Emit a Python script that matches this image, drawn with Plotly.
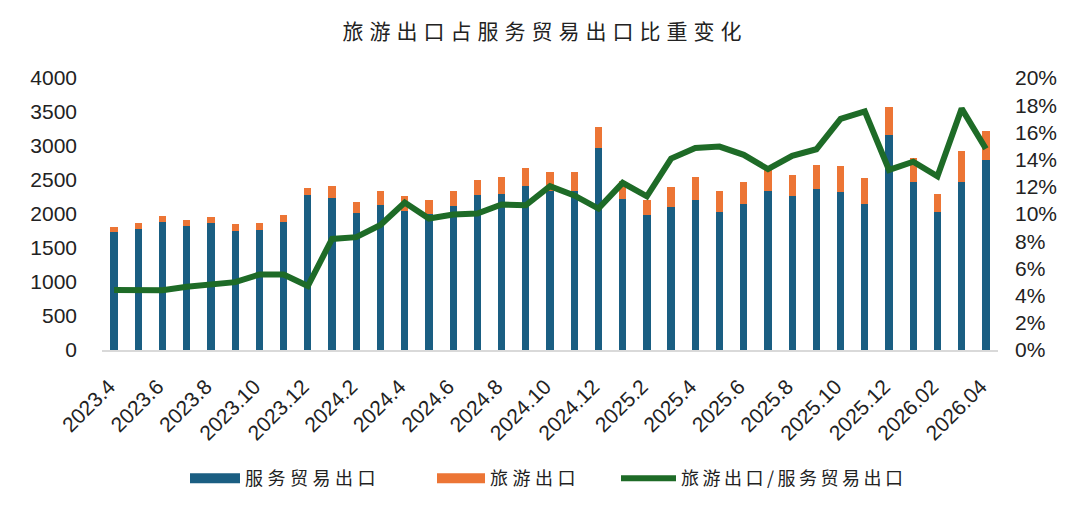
import plotly.graph_objects as go

months = (["2023.%d" % m for m in range(4, 13)]
          + ["2024.%d" % m for m in range(1, 13)]
          + ["2025.%d" % m for m in range(1, 13)]
          + ["2026.01", "2026.02", "2026.03", "2026.04"])

services = [1741, 1779, 1886, 1823, 1862, 1750, 1765, 1886, 2274, 2235,
            2012, 2128, 2041, 2007, 2114, 2274, 2288, 2405, 2337, 2337,
            2967, 2225, 1983, 2100, 2211, 2036, 2153, 2342, 2259, 2361,
            2317, 2153, 3166, 2477, 2032, 2477, 2793]

tourism = [73, 88, 83, 92, 87, 97, 102, 102, 107, 184,
           165, 204, 228, 204, 218, 228, 262, 267, 277, 277,
           316, 267, 228, 300, 339, 306, 324, 305, 316, 354,
           388, 382, 412, 349, 266, 447, 422]

ratio_pct = [4.41, 4.41, 4.40, 4.65, 4.87, 4.99, 5.55, 5.55, 4.70, 8.17,
             8.30, 9.19, 10.84, 9.67, 9.96, 10.04, 10.70, 10.64, 12.05, 11.37,
             10.40, 12.29, 11.30, 14.08, 14.86, 14.96, 14.35, 13.30, 14.28, 14.76,
             17.00, 17.55, 13.24, 13.84, 12.77, 17.75, 14.80]
ratio = [v / 100 for v in ratio_pct]

title_text = "旅游出口占服务贸易出口比重变化"
names = ["服务贸易出口", "旅游出口", "旅游出口/服务贸易出口"]

BLUE = "#1a5e82"
ORANGE = "#ec7535"
GREEN = "#1e6b27"
TEXT = "#222222"
LATIN = "Liberation Sans, Arial, sans-serif"
TICKFONT = dict(family=LATIN, size=21, color=TEXT)
CJK = "Noto Sans CJK SC, sans-serif"


def spaced(s, px):
    return '<span style="letter-spacing:%spx">%s</span>' % (px, s)


fig = go.Figure()
fig.add_trace(go.Bar(x=months, y=services, name=names[0], marker_color=BLUE,
                     marker_line_width=0, showlegend=False))
fig.add_trace(go.Bar(x=months, y=tourism, name=names[1], marker_color=ORANGE,
                     marker_line_width=0, showlegend=False))
fig.add_trace(go.Scatter(x=months, y=ratio, name=spaced(names[2], 3.5), yaxis="y2",
                         mode="lines", line=dict(color=GREEN, width=6),
                         legend="legend3"))
# legend swatches for the two bar series (wide rectangles as in the reference)
fig.add_trace(go.Scatter(x=[None], y=[None], name=spaced(names[0], 4.5), mode="lines",
                         line=dict(color=BLUE, width=12), legend="legend"))
fig.add_trace(go.Scatter(x=[None], y=[None], name=spaced(names[1], 4.5), mode="lines",
                         line=dict(color=ORANGE, width=12), legend="legend2"))

PW = 896.0
LEFT = 102.0


def lx(px):
    return (px - LEFT) / PW


legend_common = dict(orientation="h", y=-0.473, yanchor="middle", xanchor="left",
                     font=dict(family=CJK, size=18, color=TEXT),
                     bgcolor="rgba(0,0,0,0)", borderwidth=0)

fig.update_layout(
    width=1080, height=509,
    margin=dict(l=102, r=82, t=78, b=156),
    paper_bgcolor="white", plot_bgcolor="white",
    barmode="stack", bargap=0.7,
    title=dict(text=spaced(title_text, 6),
               x=0.5 + 5 / 1080, xanchor="center", y=1 - 32 / 509, yanchor="middle",
               font=dict(family=CJK, size=21, color=TEXT)),
    xaxis=dict(type="category", range=[-0.5, 36.5],
               tickmode="array", tickvals=months[::2], ticktext=months[::2],
               tickangle=-45, tickfont=dict(family=LATIN, size=21, color=TEXT),
               ticklabelstandoff=14, ticklabelshift=-5,
               showline=True, linecolor="#d9d9d9", linewidth=2,
               ticks="", showgrid=False, zeroline=False),
    yaxis=dict(range=[0, 4000], dtick=500, tickfont=TICKFONT, showgrid=False,
               zeroline=False, showline=False, ticks="", ticklabelstandoff=24),
    yaxis2=dict(range=[0, 0.2], dtick=0.02, tickformat=".0%", overlaying="y",
                side="right", tickfont=TICKFONT, showgrid=False, zeroline=False,
                showline=False, ticks="", ticklabelstandoff=16),
    legend=dict(legend_common, x=lx(185), itemwidth=50),
    legend2=dict(legend_common, x=lx(432), itemwidth=48),
    legend3=dict(legend_common, x=lx(616), itemwidth=55),
    showlegend=True,
)

fig.write_html("out.html")
